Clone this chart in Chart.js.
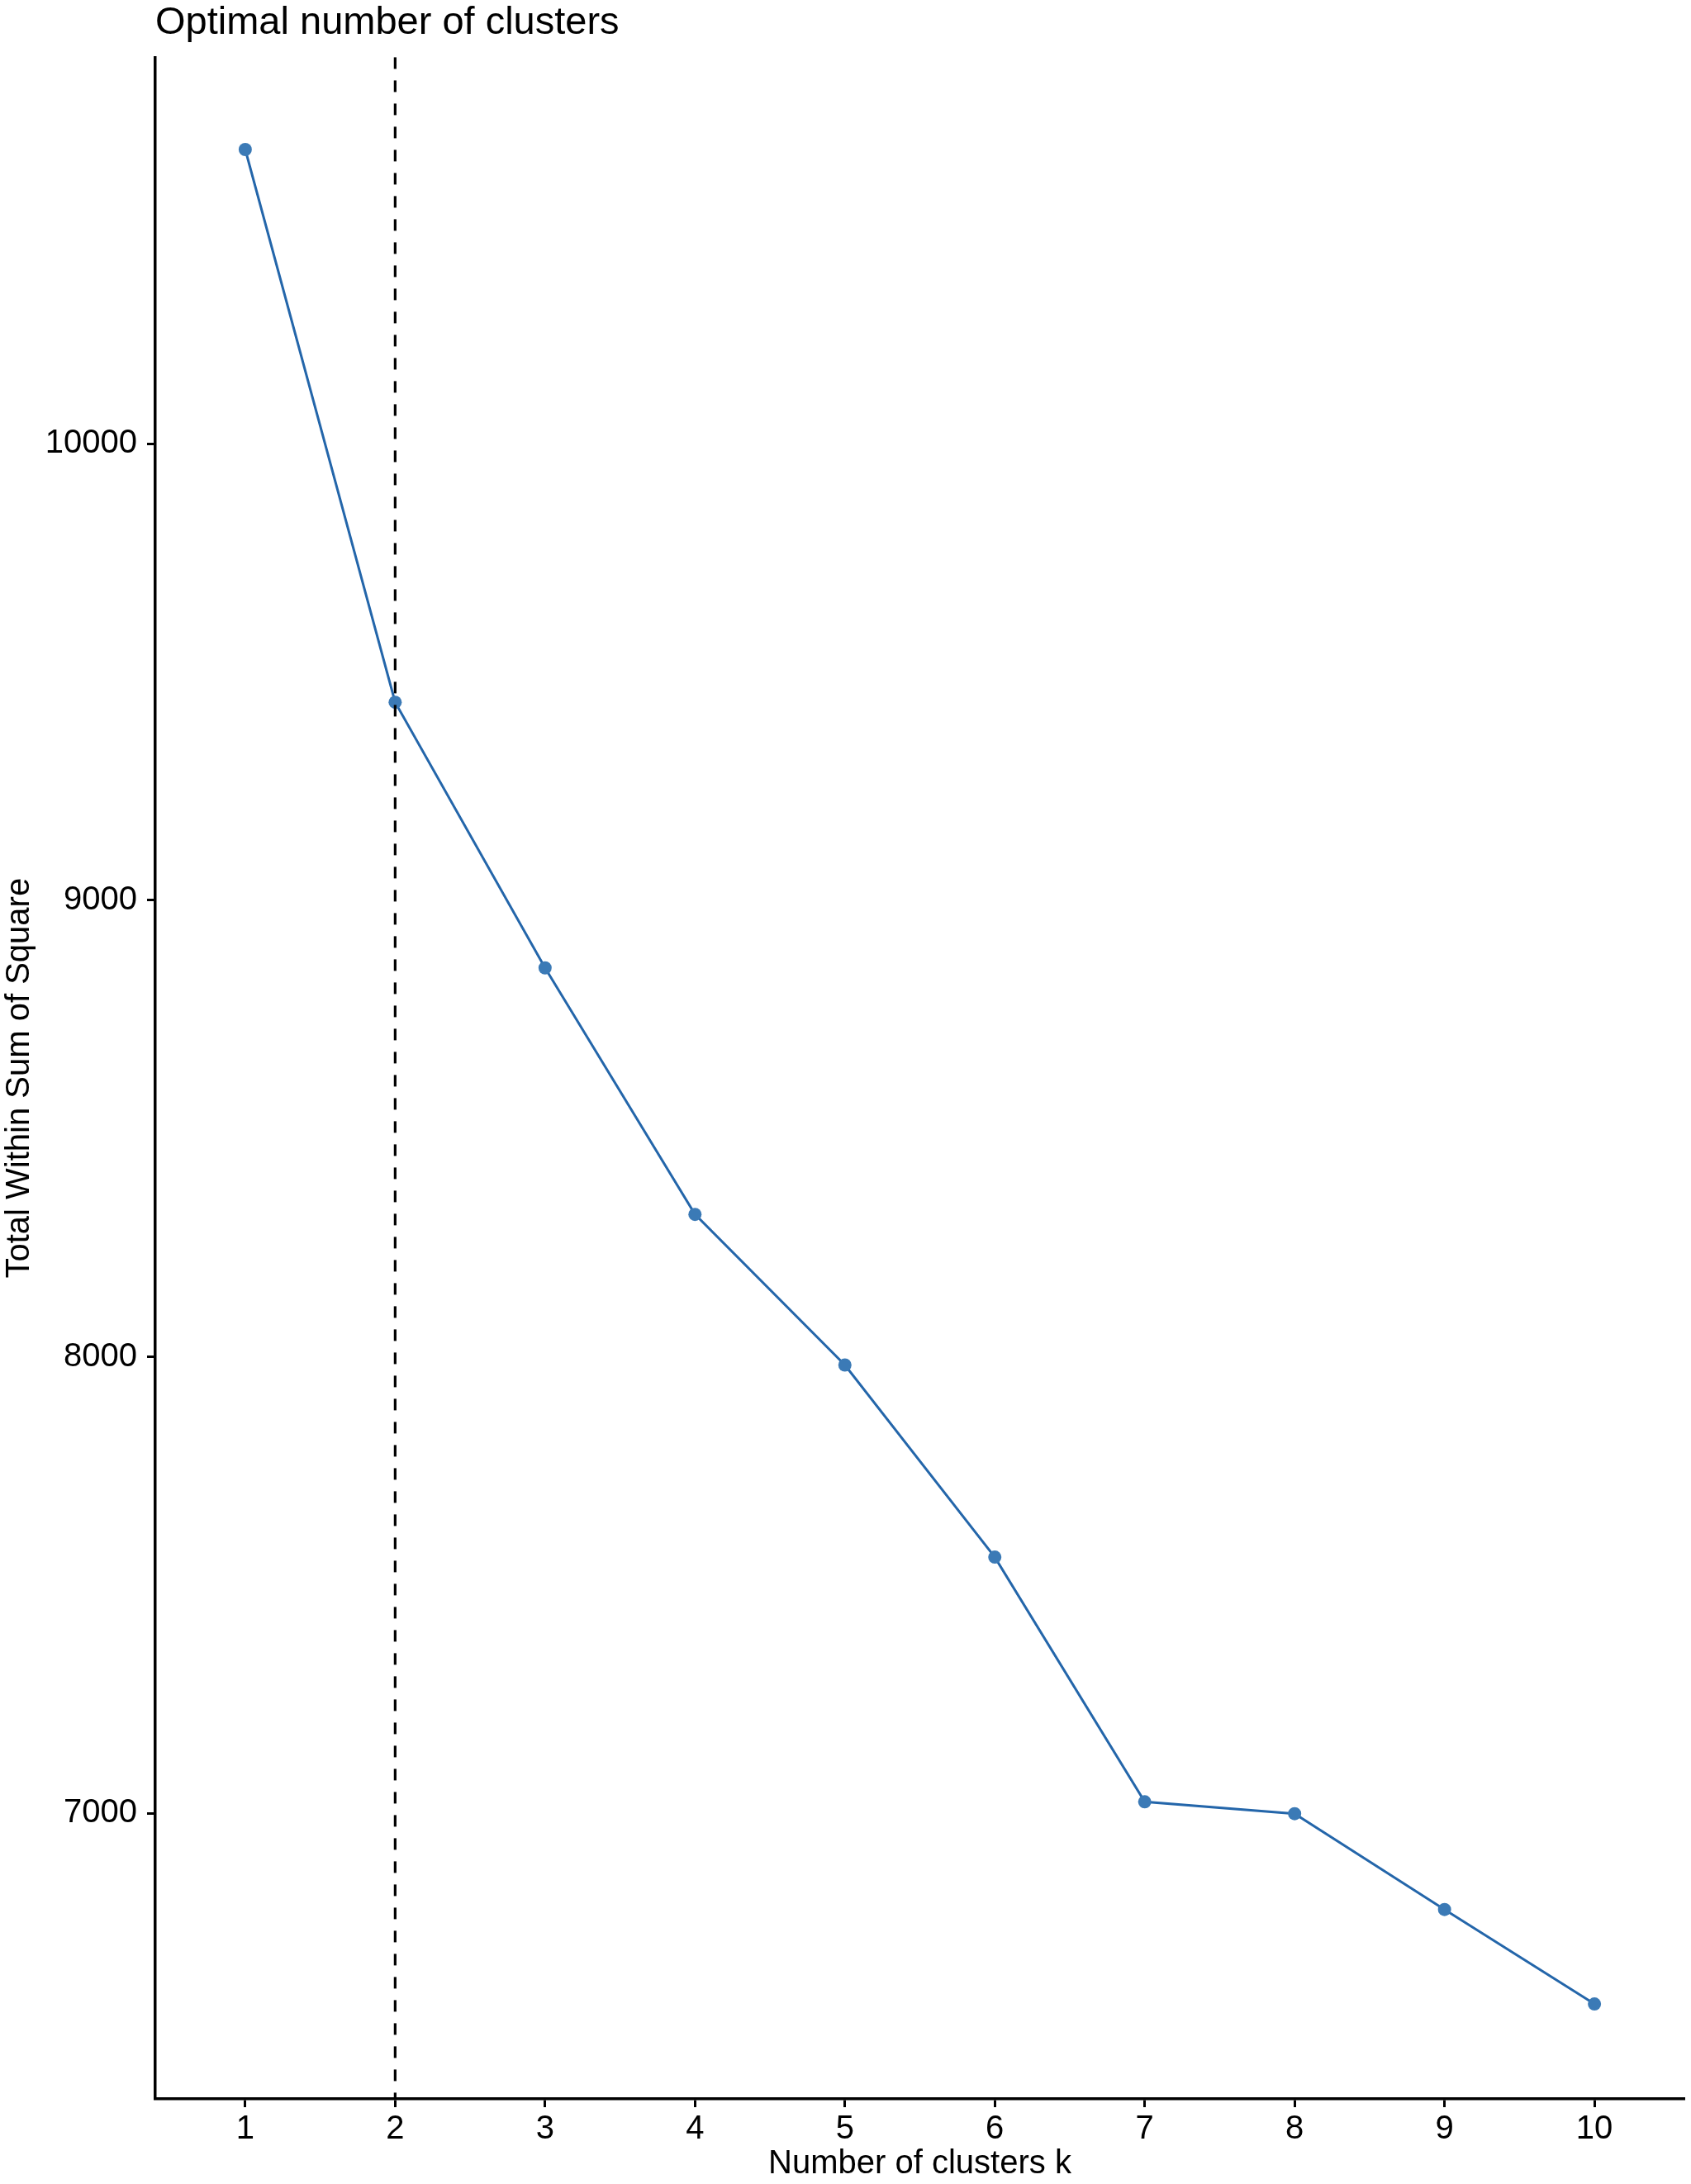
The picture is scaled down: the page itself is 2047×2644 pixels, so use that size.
<!DOCTYPE html>
<html>
<head>
<meta charset="utf-8">
<script src="https://cdn.jsdelivr.net/npm/chart.js@4.4.1/dist/chart.umd.min.js"></script>
<style>
  html, body { margin: 0; padding: 0; background: #fff; }
  #wrap { width: 2047px; height: 2644px; position: relative; }
</style>
</head>
<body>
<div id="wrap"><canvas id="elbowChart"></canvas></div>
<script>
const clusterK = [1, 2, 3, 4, 5, 6, 7, 8, 9, 10];
const withinSS = [10645, 9434, 8852, 8312, 7982, 7561, 7025, 6999, 6789, 6582];
const yTickValues = [7000, 8000, 9000, 10000];
const optimalK = 2;

const FONT = "'Liberation Sans', Arial, Helvetica, sans-serif";

// vertical dashed marker at the chosen k
const optimalLine = {
  id: 'optimalLine',
  afterDatasetsDraw(chart) {
    const { ctx, chartArea, scales } = chart;
    const x = scales.x.getPixelForValue(optimalK);
    ctx.save();
    ctx.strokeStyle = '#000';
    ctx.lineWidth = 3.2;
    ctx.setLineDash([14, 14]);
    ctx.beginPath();
    ctx.moveTo(x, chartArea.top);
    ctx.lineTo(x, chartArea.bottom);
    ctx.stroke();
    ctx.restore();
  }
};

new Chart("elbowChart", {
  type: "line",
  data: {
    datasets: [{
      label: "Total Within Sum of Square",
      data: clusterK.map((k, i) => ({ x: k, y: withinSS[i] })),
      borderColor: "#2466aa",
      backgroundColor: "#3b7ab6",
      borderWidth: 3,
      pointRadius: 8,
      pointBorderWidth: 0,
      pointBackgroundColor: "#3b7ab6",
      fill: false,
      tension: 0
    }]
  },
  options: {
    responsive: true,
    maintainAspectRatio: false,
    animation: false,
    layout: { padding: { left: 0, right: 7, top: 0, bottom: 0 } },
    scales: {
      x: {
        type: 'linear',
        min: 0.4,
        max: 10.6,
        afterBuildTicks: (axis) => { axis.ticks = clusterK.map(v => ({ value: v })); },
        afterFit: (axis) => { axis.height = 103; },
        border: { display: true, color: '#000', width: 3.5 },
        grid: { display: true, drawOnChartArea: false, drawTicks: true, tickLength: 10, color: '#000', tickWidth: 3 },
        ticks: { color: '#000', font: { family: FONT, size: 40 }, padding: 3, maxRotation: 0, autoSkip: false,
                 callback: (v) => String(v) },
        title: {
          display: true,
          text: 'Number of clusters k',
          color: '#000',
          font: { family: FONT, size: 40 },
          padding: { top: 0, bottom: 0 }
        }
      },
      y: {
        min: 6374,
        max: 10847,
        afterBuildTicks: (axis) => { axis.ticks = yTickValues.map(v => ({ value: v })); },
        afterFit: (axis) => { axis.width = 188; },
        border: { display: true, color: '#000', width: 3.5 },
        grid: { display: true, drawOnChartArea: false, drawTicks: true, tickLength: 10, color: '#000', tickWidth: 3 },
        ticks: { color: '#000', font: { family: FONT, size: 40 }, padding: 12,
                 callback: (v) => String(v) },
        title: {
          display: true,
          text: 'Total Within Sum of Square',
          color: '#000',
          font: { family: FONT, size: 40 },
          padding: { top: 0, bottom: 0 }
        }
      }
    },
    plugins: {
      legend: { display: false },
      tooltip: { enabled: false },
      title: {
        display: true,
        text: 'Optimal number of clusters',
        color: '#000',
        align: 'start',
        position: 'top',
        fullSize: false,
        font: { family: FONT, size: 47, weight: 'normal' },
        padding: { top: 0, bottom: 13 }
      }
    }
  },
  plugins: [optimalLine]
});
</script>
</body>
</html>
